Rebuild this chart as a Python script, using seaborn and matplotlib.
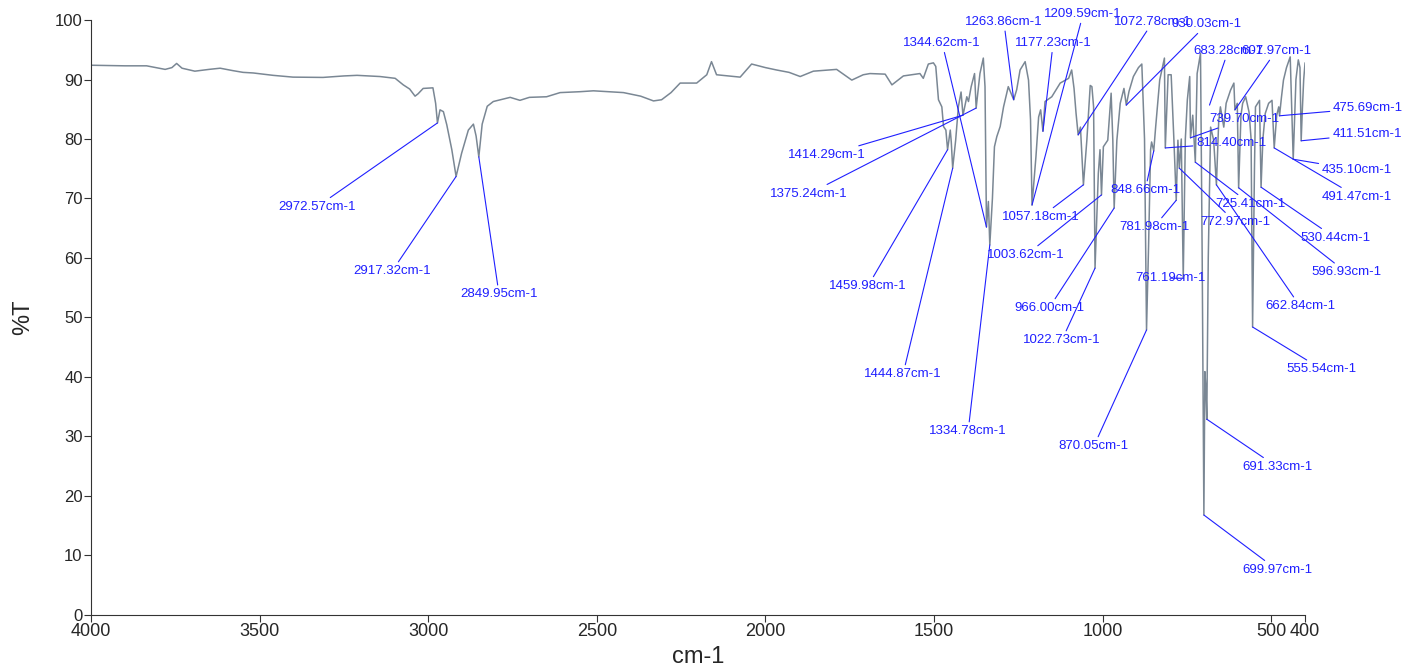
import numpy as np
import pandas as pd
import matplotlib
matplotlib.use('Agg')
import matplotlib.pyplot as plt
import seaborn as sns

# espectro (cm-1, %T) - regiao 4000-1500
wn_alto = [4000, 3900, 3835, 3780, 3760, 3746, 3730, 3692, 3650, 3617, 3580, 3549,
           3519, 3460, 3401, 3312, 3250, 3211, 3143, 3098, 3074, 3055, 3039, 3030,
           3015, 2986, 2978, 2972.57, 2965, 2955, 2945, 2930, 2917.32, 2901, 2881,
           2866, 2858, 2849.95, 2840, 2825, 2807, 2757, 2728, 2700, 2649, 2609, 2550,
           2510, 2421, 2370, 2332, 2308, 2280, 2253, 2204, 2174, 2160, 2145, 2110,
           2075, 2041, 2000, 1967, 1930, 1897, 1858, 1789, 1744, 1710, 1690, 1645,
           1625, 1591, 1542, 1532, 1517, 1502]
t_alto = [92.4, 92.3, 92.3, 91.7, 92.0, 92.7, 91.9, 91.4, 91.7, 91.9, 91.5, 91.2,
          91.1, 90.7, 90.4, 90.35, 90.6, 90.7, 90.5, 90.2, 89.1, 88.4, 87.2, 87.6,
          88.5, 88.6, 86.0, 82.7, 84.9, 84.6, 82.4, 78.2, 73.7, 77.6, 81.5,
          82.5, 80.5, 77.0, 82.5, 85.5, 86.3, 87.0, 86.5, 87.0, 87.1, 87.8, 87.95,
          88.1, 87.8, 87.2, 86.4, 86.6, 87.8, 89.4, 89.4, 90.8, 93.0, 90.8, 90.6,
          90.4, 92.6, 92.0, 91.6, 91.2, 90.5, 91.4, 91.7, 89.9, 90.8, 91.0, 90.9,
          89.1, 90.6, 91.0, 90.2, 92.6, 92.8]

# regiao de impressao digital 1500-400
wn_baixo = [1495, 1487, 1477, 1472, 1465, 1459.98, 1452, 1449, 1444.87, 1436, 1428,
            1420, 1414.29, 1403, 1398, 1390, 1380, 1375.24, 1364, 1354, 1349,
            1344.62, 1339, 1334.78, 1327, 1321, 1314, 1304, 1294, 1280, 1263.86,
            1255, 1245, 1230, 1220, 1214, 1209.59, 1198, 1190, 1184, 1177.23, 1171,
            1151, 1126, 1101, 1092, 1085, 1079, 1072.78, 1066, 1057.18, 1047, 1037,
            1032, 1027, 1022.73, 1013, 1008, 1003.62, 998, 985, 975, 970, 966.00,
            958, 948, 937, 930.03, 922, 909, 894, 884, 876, 870.05, 864, 858, 855,
            848.66, 843, 831, 817, 814.40, 810, 806, 797, 789, 781.98, 777, 772.97,
            767, 761.19, 755, 749, 742, 739.70, 733, 725.41, 720, 710, 705, 699.97,
            697, 694, 691.33, 687, 680, 671, 662.84, 656, 651, 641, 634, 621, 611,
            607.97, 601, 596.93, 590, 585, 576, 566, 560, 555.54, 550, 547, 535,
            530.44, 525, 518, 508, 498, 491.47, 484, 478, 475.69, 470, 464, 455,
            444, 435.10, 427, 420, 415, 411.51, 408, 404, 400]
t_baixo = [92.2, 86.6, 85.4, 82.1, 81.5, 78.2, 81.5, 79.5, 75.1, 79.8, 85.4,
           87.9, 84.0, 87.1, 86.3, 88.8, 91.0, 85.2, 91.0, 93.6, 88.8,
           65.2, 69.5, 62.2, 70.0, 78.7, 80.4, 82.1, 85.4, 88.8, 86.6,
           88.3, 91.6, 93.0, 89.9, 83.2, 68.9, 77.0, 83.7, 84.9, 81.3, 86.3,
           87.1, 89.4, 90.2, 91.6, 88.5, 84.3, 80.7, 82.0, 72.3, 79.8, 89.0,
           88.8, 85.4, 58.3, 74.2, 78.2, 70.6, 78.7, 79.8, 87.7, 79.8, 68.4,
           79.8, 86.0, 88.5, 85.7, 88.0, 90.5, 92.0, 92.6, 80.0, 47.9, 62.0, 78.2, 79.5,
           78.0, 82.0, 89.9, 93.6, 78.5, 85.0, 90.8, 90.8, 80.0, 69.7, 79.8, 75.1,
           80.0, 56.6, 80.0, 86.6, 90.5, 80.2, 84.0, 76.1, 91.0, 94.4, 60.0, 16.8,
           40.9, 38.0, 32.9, 60.0, 82.0, 79.8, 72.3, 83.0, 85.4, 82.0, 86.0, 88.2, 89.4,
           84.9, 86.0, 71.8, 84.0, 86.0, 87.1, 84.5, 80.0, 48.4, 75.0, 85.4, 86.5,
           71.9, 80.0, 84.3, 86.0, 86.5, 78.5, 84.0, 85.4, 83.9, 87.0, 89.9, 92.0,
           93.8, 76.6, 90.0, 93.3, 92.0, 79.7, 85.0, 90.0, 92.8]

# picos marcados
picos = [2972.57, 2917.32, 2849.95, 1414.29, 1375.24, 1344.62, 1459.98, 1444.87,
         1334.78, 1263.86, 1209.59, 1177.23, 1057.18, 1072.78, 930.03, 683.28,
         607.97, 739.70, 814.40, 848.66, 781.98, 772.97, 725.41, 761.19, 1003.62,
         966.00, 1022.73, 870.05, 691.33, 699.97, 555.54, 596.93, 530.44, 491.47,
         435.10, 411.51, 475.69, 662.84]
picos_t = [82.7, 73.7, 77.0, 84.0, 85.2, 65.2, 78.2, 75.1,
           62.2, 86.6, 68.9, 81.3, 72.3, 80.7, 85.7, 85.7,
           84.9, 80.2, 78.5, 78.0, 69.7, 75.1, 76.1, 56.6, 70.6,
           68.4, 58.3, 47.9, 32.9, 16.8, 48.4, 71.8, 71.9, 78.5,
           76.6, 79.7, 83.9, 72.3]
# posicao dos rotulos (cm-1, %T)
rot_x = [3330, 3107, 2790, 1817, 1871, 1476, 1696, 1592,
         1399, 1293, 1058, 1147, 1183, 851, 691, 628,
         486, 581, 619, 874, 848, 608, 563, 800, 1227,
         1159, 1121, 1026, 483, 483, 350, 278, 311, 246,
         246, 216, 213, 415]
rot_y = [68.6, 57.8, 53.9, 77.3, 70.8, 96.1, 55.3, 40.5,
         30.9, 99.7, 101.0, 96.1, 66.9, 99.7, 99.3, 94.8,
         94.8, 83.4, 79.3, 71.4, 65.2, 66.1, 69.1, 56.6, 60.5,
         51.6, 46.2, 28.4, 24.9, 7.6, 41.3, 57.6, 63.4, 70.3,
         74.8, 80.8, 85.2, 51.9]

dados = pd.DataFrame({'cm-1': wn_alto + wn_baixo, '%T': t_alto + t_baixo})

sns.set_style('ticks')
plt.rcParams['font.family'] = ['Liberation Sans', 'DejaVu Sans']

fig = plt.figure(figsize=(14.06, 6.67), dpi=100)
ax = fig.add_axes([0.0647, 0.078, 0.8635, 0.892])

sns.lineplot(data=dados, x='cm-1', y='%T', ax=ax, sort=False, estimator=None,
             color='#7a8794', linewidth=1.1)

for p, pt, tx, ty in zip(picos, picos_t, rot_x, rot_y):
    ax.annotate(f'{p:.2f}cm-1', xy=(p, pt), xytext=(tx, ty), textcoords='data',
                ha='center', va='center', color='#1f1fff', fontsize=9.5,
                annotation_clip=False,
                arrowprops=dict(arrowstyle='-', color='#1f1fff', lw=0.8,
                                shrinkA=0, shrinkB=0))

ax.set_xlim(4000, 400)
ax.set_ylim(0, 100)
ax.set_xticks([4000, 3500, 3000, 2500, 2000, 1500, 1000, 500, 400])
ax.set_yticks(range(0, 101, 10))
ax.tick_params(labelsize=12, length=5, width=0.8, color='#333333', pad=1)
for lbl in ax.get_xticklabels():
    lbl.set_family(['Liberation Sans Narrow', 'Liberation Sans'])
    lbl.set_fontsize(13)
ax.set_xlabel('cm-1', fontsize=17, labelpad=4,
              family=['Liberation Sans Narrow', 'Liberation Sans'])
ax.set_ylabel('%T', fontsize=17, labelpad=15)
sns.despine(ax=ax)
for s in ['left', 'bottom']:
    ax.spines[s].set_color('#333333')
    ax.spines[s].set_linewidth(0.8)

plt.savefig('out.png', dpi=100)
plt.close()
